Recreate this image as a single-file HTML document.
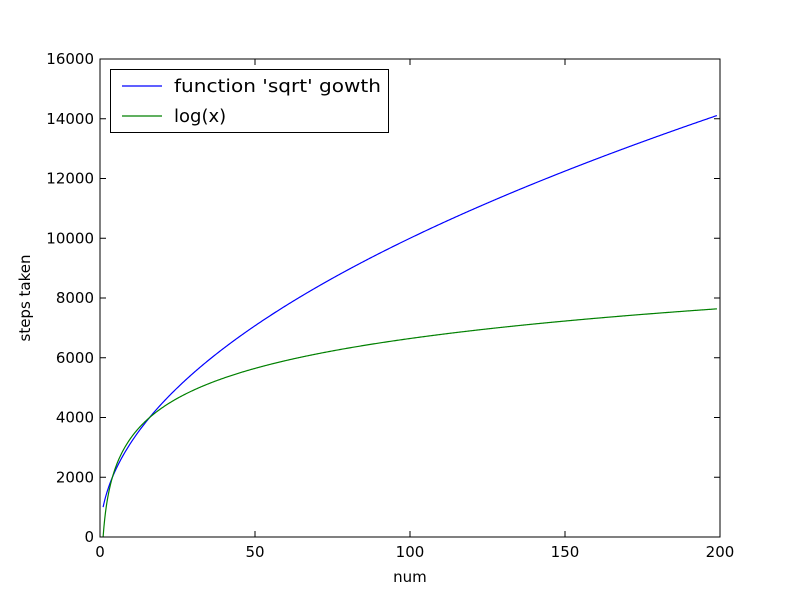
<!DOCTYPE html>
<html><head><meta charset="utf-8"><style>
html,body{margin:0;padding:0;background:#fff;}
svg{display:block;font-family:"DejaVu Sans","Liberation Sans",sans-serif;}
</style></head><body>
<svg id="s" width="800" height="597" viewBox="0 0 800 597" xmlns="http://www.w3.org/2000/svg">
<rect width="800" height="597" fill="#fff"/>
<polyline id="blue" fill="none" stroke="#0000ff" stroke-width="1.2"/>
<polyline id="green" fill="none" stroke="#008000" stroke-width="1.2"/>
<rect x="100" y="59" width="620" height="478" fill="none" stroke="#000" stroke-width="1"/>
<g id="ticks" stroke="#000" stroke-width="1"></g>
<g id="labels" font-size="15" fill="#000"></g>
<text x="410" y="582" font-size="15" text-anchor="middle">num</text>
<text transform="translate(30,298) rotate(-90)" font-size="15" text-anchor="middle">steps taken</text>
<rect x="110.5" y="69.5" width="278" height="63" fill="#fff" stroke="#000" stroke-width="1"/>
<line x1="122" y1="86" x2="162" y2="86" stroke="#0000ff" stroke-width="1.2"/>
<line x1="122" y1="116" x2="162" y2="116" stroke="#008000" stroke-width="1.2"/>
<text x="174" y="92" font-size="18" textLength="207" lengthAdjust="spacingAndGlyphs">function 'sqrt' gowth</text>
<text x="174" y="122" font-size="18">log(x)</text>
</svg>
<script>
(function(){
 function X(v){return 100+v*3.1;}
 function Y(v){return 537-v*478/16000;}
 var b=[],g=[];
 for(var x=1;x<=199.0001;x+=0.25){
  b.push(X(x).toFixed(2)+","+Y(1000*Math.sqrt(x)).toFixed(2));
  g.push(X(x).toFixed(2)+","+Y(1000*Math.log(x)/Math.LN2).toFixed(2));
 }
 document.getElementById("blue").setAttribute("points",b.join(" "));
 document.getElementById("green").setAttribute("points",g.join(" "));
 var t="",l="";
 for(var v=0;v<=200;v+=50){var px=X(v);
  t+='<line x1="'+px+'" y1="537" x2="'+px+'" y2="531"/><line x1="'+px+'" y1="59" x2="'+px+'" y2="65"/>';
  l+='<text x="'+px+'" y="557" text-anchor="middle">'+v+'</text>';}
 for(var v=0;v<=16000;v+=2000){var py=Y(v);
  t+='<line x1="100" y1="'+py+'" x2="106" y2="'+py+'"/><line x1="720" y1="'+py+'" x2="714" y2="'+py+'"/>';
  l+='<text x="94" y="'+(py+5)+'" text-anchor="end">'+v+'</text>';}
 document.getElementById("ticks").innerHTML=t;
 document.getElementById("labels").innerHTML=l;
})();
</script>
</body></html>
